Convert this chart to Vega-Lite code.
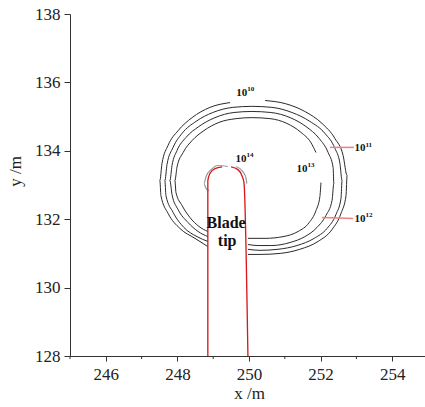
{
  "$schema": "https://vega.github.io/schema/vega-lite/v6.json",
  "autosize": "none",
  "padding": {"left": 70, "top": 14, "right": 0, "bottom": 51},
  "width": 358,
  "height": 342,
  "background": "white",
  "config": {
    "view": {"stroke": null},
    "font": "Liberation Serif",
    "axis": {
      "labelFont": "Liberation Serif",
      "titleFont": "Liberation Serif",
      "labelFontSize": 17,
      "titleFontSize": 17,
      "titleFontWeight": "normal",
      "labelColor": "#222",
      "titleColor": "#222",
      "domainColor": "#333",
      "tickColor": "#333",
      "labelOverlap": false,
      "grid": false
    }
  },
  "datasets": {
    "lines": [
      {"s":"A1","k":"contour","i":0,"x":248.85,"y":131.20},
      {"s":"A1","k":"contour","i":1,"x":248.49,"y":131.44},
      {"s":"A1","k":"contour","i":2,"x":248.07,"y":131.73},
      {"s":"A1","k":"contour","i":3,"x":247.74,"y":132.17},
      {"s":"A1","k":"contour","i":4,"x":247.54,"y":132.69},
      {"s":"A1","k":"contour","i":5,"x":247.51,"y":133.13},
      {"s":"A1","k":"contour","i":6,"x":247.57,"y":133.63},
      {"s":"A1","k":"contour","i":7,"x":247.74,"y":134.16},
      {"s":"A1","k":"contour","i":8,"x":248.02,"y":134.59},
      {"s":"A1","k":"contour","i":9,"x":248.41,"y":134.97},
      {"s":"A1","k":"contour","i":10,"x":248.91,"y":135.27},
      {"s":"A1","k":"contour","i":11,"x":249.47,"y":135.41},
      {"s":"A2","k":"contour","i":0,"x":250.45,"y":135.47},
      {"s":"A2","k":"contour","i":1,"x":251.01,"y":135.38},
      {"s":"A2","k":"contour","i":2,"x":251.56,"y":135.15},
      {"s":"A2","k":"contour","i":3,"x":252.04,"y":134.80},
      {"s":"A2","k":"contour","i":4,"x":252.40,"y":134.36},
      {"s":"A2","k":"contour","i":5,"x":252.63,"y":133.86},
      {"s":"A2","k":"contour","i":6,"x":252.74,"y":133.28},
      {"s":"A2","k":"contour","i":7,"x":252.71,"y":132.69},
      {"s":"A2","k":"contour","i":8,"x":252.57,"y":132.17},
      {"s":"A2","k":"contour","i":9,"x":252.32,"y":131.70},
      {"s":"A2","k":"contour","i":10,"x":251.93,"y":131.35},
      {"s":"A2","k":"contour","i":11,"x":251.42,"y":131.12},
      {"s":"A2","k":"contour","i":12,"x":250.87,"y":131.00},
      {"s":"A2","k":"contour","i":13,"x":250.31,"y":130.97},
      {"s":"A2","k":"contour","i":14,"x":249.97,"y":130.97},
      {"s":"B","k":"contour","i":0,"x":248.85,"y":131.35},
      {"s":"B","k":"contour","i":1,"x":248.55,"y":131.49},
      {"s":"B","k":"contour","i":2,"x":248.18,"y":131.76},
      {"s":"B","k":"contour","i":3,"x":247.88,"y":132.20},
      {"s":"B","k":"contour","i":4,"x":247.68,"y":132.69},
      {"s":"B","k":"contour","i":5,"x":247.65,"y":133.13},
      {"s":"B","k":"contour","i":6,"x":247.71,"y":133.60},
      {"s":"B","k":"contour","i":7,"x":247.88,"y":134.10},
      {"s":"B","k":"contour","i":8,"x":248.13,"y":134.51},
      {"s":"B","k":"contour","i":9,"x":248.52,"y":134.86},
      {"s":"B","k":"contour","i":10,"x":248.99,"y":135.12},
      {"s":"B","k":"contour","i":11,"x":249.55,"y":135.27},
      {"s":"B","k":"contour","i":12,"x":250.08,"y":135.30},
      {"s":"B","k":"contour","i":13,"x":250.64,"y":135.27},
      {"s":"B","k":"contour","i":14,"x":251.20,"y":135.12},
      {"s":"B","k":"contour","i":15,"x":251.70,"y":134.86},
      {"s":"B","k":"contour","i":16,"x":252.12,"y":134.51},
      {"s":"B","k":"contour","i":17,"x":252.40,"y":134.07},
      {"s":"B","k":"contour","i":18,"x":252.54,"y":133.63},
      {"s":"B","k":"contour","i":19,"x":252.60,"y":133.13},
      {"s":"B","k":"contour","i":20,"x":252.57,"y":132.61},
      {"s":"B","k":"contour","i":21,"x":252.43,"y":132.14},
      {"s":"B","k":"contour","i":22,"x":252.18,"y":131.73},
      {"s":"B","k":"contour","i":23,"x":251.82,"y":131.44},
      {"s":"B","k":"contour","i":24,"x":251.34,"y":131.23},
      {"s":"B","k":"contour","i":25,"x":250.81,"y":131.12},
      {"s":"B","k":"contour","i":26,"x":250.31,"y":131.09},
      {"s":"B","k":"contour","i":27,"x":249.97,"y":131.12},
      {"s":"C","k":"contour","i":0,"x":248.85,"y":131.49},
      {"s":"C","k":"contour","i":1,"x":248.58,"y":131.64},
      {"s":"C","k":"contour","i":2,"x":248.30,"y":131.90},
      {"s":"C","k":"contour","i":3,"x":248.02,"y":132.28},
      {"s":"C","k":"contour","i":4,"x":247.85,"y":132.72},
      {"s":"C","k":"contour","i":5,"x":247.79,"y":133.13},
      {"s":"C","k":"contour","i":6,"x":247.85,"y":133.57},
      {"s":"C","k":"contour","i":7,"x":247.99,"y":134.01},
      {"s":"C","k":"contour","i":8,"x":248.24,"y":134.39},
      {"s":"C","k":"contour","i":9,"x":248.60,"y":134.71},
      {"s":"C","k":"contour","i":10,"x":249.05,"y":134.97},
      {"s":"C","k":"contour","i":11,"x":249.58,"y":135.12},
      {"s":"C","k":"contour","i":12,"x":250.08,"y":135.15},
      {"s":"C","k":"contour","i":13,"x":250.61,"y":135.12},
      {"s":"C","k":"contour","i":14,"x":251.15,"y":134.97},
      {"s":"C","k":"contour","i":15,"x":251.59,"y":134.71},
      {"s":"C","k":"contour","i":16,"x":251.96,"y":134.36},
      {"s":"C","k":"contour","i":17,"x":252.21,"y":133.95},
      {"s":"C","k":"contour","i":18,"x":252.35,"y":133.51},
      {"s":"C","k":"contour","i":19,"x":252.37,"y":133.04},
      {"s":"C","k":"contour","i":20,"x":252.32,"y":132.55},
      {"s":"C","k":"contour","i":21,"x":252.15,"y":132.11},
      {"s":"C","k":"contour","i":22,"x":251.90,"y":131.76},
      {"s":"C","k":"contour","i":23,"x":251.56,"y":131.49},
      {"s":"C","k":"contour","i":24,"x":251.15,"y":131.32},
      {"s":"C","k":"contour","i":25,"x":250.64,"y":131.23},
      {"s":"C","k":"contour","i":26,"x":250.25,"y":131.23},
      {"s":"C","k":"contour","i":27,"x":249.97,"y":131.26},
      {"s":"D1","k":"contour","i":0,"x":248.85,"y":131.64},
      {"s":"D1","k":"contour","i":1,"x":248.60,"y":131.79},
      {"s":"D1","k":"contour","i":2,"x":248.35,"y":132.05},
      {"s":"D1","k":"contour","i":3,"x":248.13,"y":132.40},
      {"s":"D1","k":"contour","i":4,"x":247.96,"y":132.78},
      {"s":"D1","k":"contour","i":5,"x":247.93,"y":133.13},
      {"s":"D1","k":"contour","i":6,"x":247.99,"y":133.53},
      {"s":"D1","k":"contour","i":7,"x":248.16,"y":133.95},
      {"s":"D1","k":"contour","i":8,"x":248.41,"y":134.30},
      {"s":"D1","k":"contour","i":9,"x":248.74,"y":134.59},
      {"s":"D1","k":"contour","i":10,"x":249.16,"y":134.83},
      {"s":"D1","k":"contour","i":11,"x":249.64,"y":134.94},
      {"s":"D1","k":"contour","i":12,"x":250.08,"y":134.97},
      {"s":"D1","k":"contour","i":13,"x":250.59,"y":134.94},
      {"s":"D1","k":"contour","i":14,"x":251.06,"y":134.80},
      {"s":"D1","k":"contour","i":15,"x":251.45,"y":134.54},
      {"s":"D1","k":"contour","i":16,"x":251.73,"y":134.24},
      {"s":"D1","k":"contour","i":17,"x":251.87,"y":133.95},
      {"s":"D2","k":"contour","i":0,"x":252.01,"y":133.07},
      {"s":"D2","k":"contour","i":1,"x":251.98,"y":132.66},
      {"s":"D2","k":"contour","i":2,"x":251.87,"y":132.25},
      {"s":"D2","k":"contour","i":3,"x":251.68,"y":131.90},
      {"s":"D2","k":"contour","i":4,"x":251.37,"y":131.64},
      {"s":"D2","k":"contour","i":5,"x":250.95,"y":131.49},
      {"s":"D2","k":"contour","i":6,"x":250.45,"y":131.44},
      {"s":"D2","k":"contour","i":7,"x":249.97,"y":131.44},
      {"s":"E1","k":"c14","i":0,"x":249.41,"y":133.54},
      {"s":"E1","k":"c14","i":1,"x":249.13,"y":133.57},
      {"s":"E1","k":"c14","i":2,"x":248.94,"y":133.45},
      {"s":"E1","k":"c14","i":3,"x":248.80,"y":133.25},
      {"s":"E1","k":"c14","i":4,"x":248.74,"y":133.04},
      {"s":"E1","k":"c14","i":5,"x":248.80,"y":132.90},
      {"s":"E1","k":"c14","i":6,"x":248.88,"y":132.83},
      {"s":"E2","k":"c14","i":0,"x":249.64,"y":133.54},
      {"s":"E2","k":"c14","i":1,"x":249.83,"y":133.39},
      {"s":"E2","k":"c14","i":2,"x":249.92,"y":133.19},
      {"s":"E2","k":"c14","i":3,"x":249.94,"y":133.04},
      {"s":"R1","k":"blade","i":0,"x":248.85,"y":128.0},
      {"s":"R1","k":"blade","i":1,"x":248.85,"y":133.13},
      {"s":"R1","k":"blade","i":2,"x":248.91,"y":133.34},
      {"s":"R1","k":"blade","i":3,"x":249.05,"y":133.48},
      {"s":"R1","k":"blade","i":4,"x":249.25,"y":133.53},
      {"s":"R2","k":"blade","i":0,"x":249.50,"y":133.53},
      {"s":"R2","k":"blade","i":1,"x":249.69,"y":133.45},
      {"s":"R2","k":"blade","i":2,"x":249.80,"y":133.28},
      {"s":"R2","k":"blade","i":3,"x":249.86,"y":133.07},
      {"s":"R2","k":"blade","i":4,"x":249.97,"y":128.0},
      {"s":"L1","k":"leader","i":0,"x":252.26,"y":134.10},
      {"s":"L1","k":"leader","i":1,"x":252.93,"y":134.10},
      {"s":"L2","k":"leader","i":0,"x":252.04,"y":132.05},
      {"s":"L2","k":"leader","i":1,"x":252.91,"y":132.02}
    ],
    "minor": [
      {"x":245,"y":128,"y2":127.91},
      {"x":247,"y":128,"y2":127.91},
      {"x":249,"y":128,"y2":127.91},
      {"x":251,"y":128,"y2":127.91},
      {"x":253,"y":128,"y2":127.91},
      {"x":255,"y":128,"y2":127.91}
    ],
    "labels": [
      {"t":"10","e":"10","x":249.80,"y":135.70},
      {"t":"10","e":"11","x":253.10,"y":134.07},
      {"t":"10","e":"12","x":253.10,"y":132.02},
      {"t":"10","e":"13","x":251.48,"y":133.48},
      {"t":"10","e":"14","x":249.78,"y":133.77}
    ],
    "blade": [
      {"t":"Blade","x":249.36,"y":131.90},
      {"t":"tip","x":249.39,"y":131.35}
    ]
  },
  "layer": [
    {
      "data": {"name": "lines"},
      "mark": {"type": "line", "interpolate": "monotone", "clip": true},
      "encoding": {
        "x": {
          "field": "x", "type": "quantitative",
          "scale": {"domain": [245, 255], "nice": false, "zero": false},
          "axis": {
            "title": "x /m",
            "values": [246, 248, 250, 252, 254],
            "tickSize": 5,
            "labelPadding": 5,
            "titlePadding": 3,
            "labelFlush": false
          }
        },
        "y": {
          "field": "y", "type": "quantitative",
          "scale": {"domain": [128, 138], "nice": false, "zero": false},
          "axis": {
            "title": "y /m",
            "values": [128, 129, 130, 131, 132, 133, 134, 135, 136, 137, 138],
            "labelExpr": "datum.value % 2 === 0 ? datum.label : ''",
            "tickSize": {"condition": {"test": "datum.value % 2 === 0", "value": 6}, "value": 3},
            "labelPadding": 4,
            "titlePadding": 10,
            "titleY": 157,
            "labelFlush": false
          }
        },
        "detail": {"field": "s"},
        "order": {"field": "i", "type": "quantitative"},
        "color": {
          "field": "k", "type": "nominal", "legend": null,
          "scale": {"domain": ["contour", "c14", "blade", "leader"], "range": ["#2a2a2a", "#999999", "#d7191c", "#f08080"]}
        },
        "strokeWidth": {
          "field": "k", "type": "nominal", "legend": null,
          "scale": {"domain": ["contour", "c14", "blade", "leader"], "range": [1, 1.5, 1.5, 1]}
        }
      }
    },
    {
      "data": {"name": "minor"},
      "mark": {"type": "rule", "color": "#333", "strokeWidth": 1},
      "encoding": {
        "x": {"field": "x", "type": "quantitative"},
        "y": {"field": "y", "type": "quantitative"},
        "y2": {"field": "y2"}
      }
    },
    {
      "data": {"name": "labels"},
      "mark": {"type": "text", "font": "Liberation Serif", "fontWeight": "bold", "fontSize": 11, "align": "center", "baseline": "middle", "color": "#111"},
      "encoding": {
        "x": {"field": "x", "type": "quantitative"},
        "y": {"field": "y", "type": "quantitative"},
        "text": {"field": "t"}
      }
    },
    {
      "data": {"name": "labels"},
      "mark": {"type": "text", "font": "Liberation Serif", "fontWeight": "bold", "fontSize": 7, "align": "left", "baseline": "middle", "dx": 5.5, "dy": -3.5, "color": "#111"},
      "encoding": {
        "x": {"field": "x", "type": "quantitative"},
        "y": {"field": "y", "type": "quantitative"},
        "text": {"field": "e"}
      }
    },
    {
      "data": {"name": "blade"},
      "mark": {"type": "text", "font": "Liberation Serif", "fontWeight": "bold", "fontSize": 16, "align": "center", "baseline": "middle", "color": "#111"},
      "encoding": {
        "x": {"field": "x", "type": "quantitative"},
        "y": {"field": "y", "type": "quantitative"},
        "text": {"field": "t"}
      }
    }
  ]
}
